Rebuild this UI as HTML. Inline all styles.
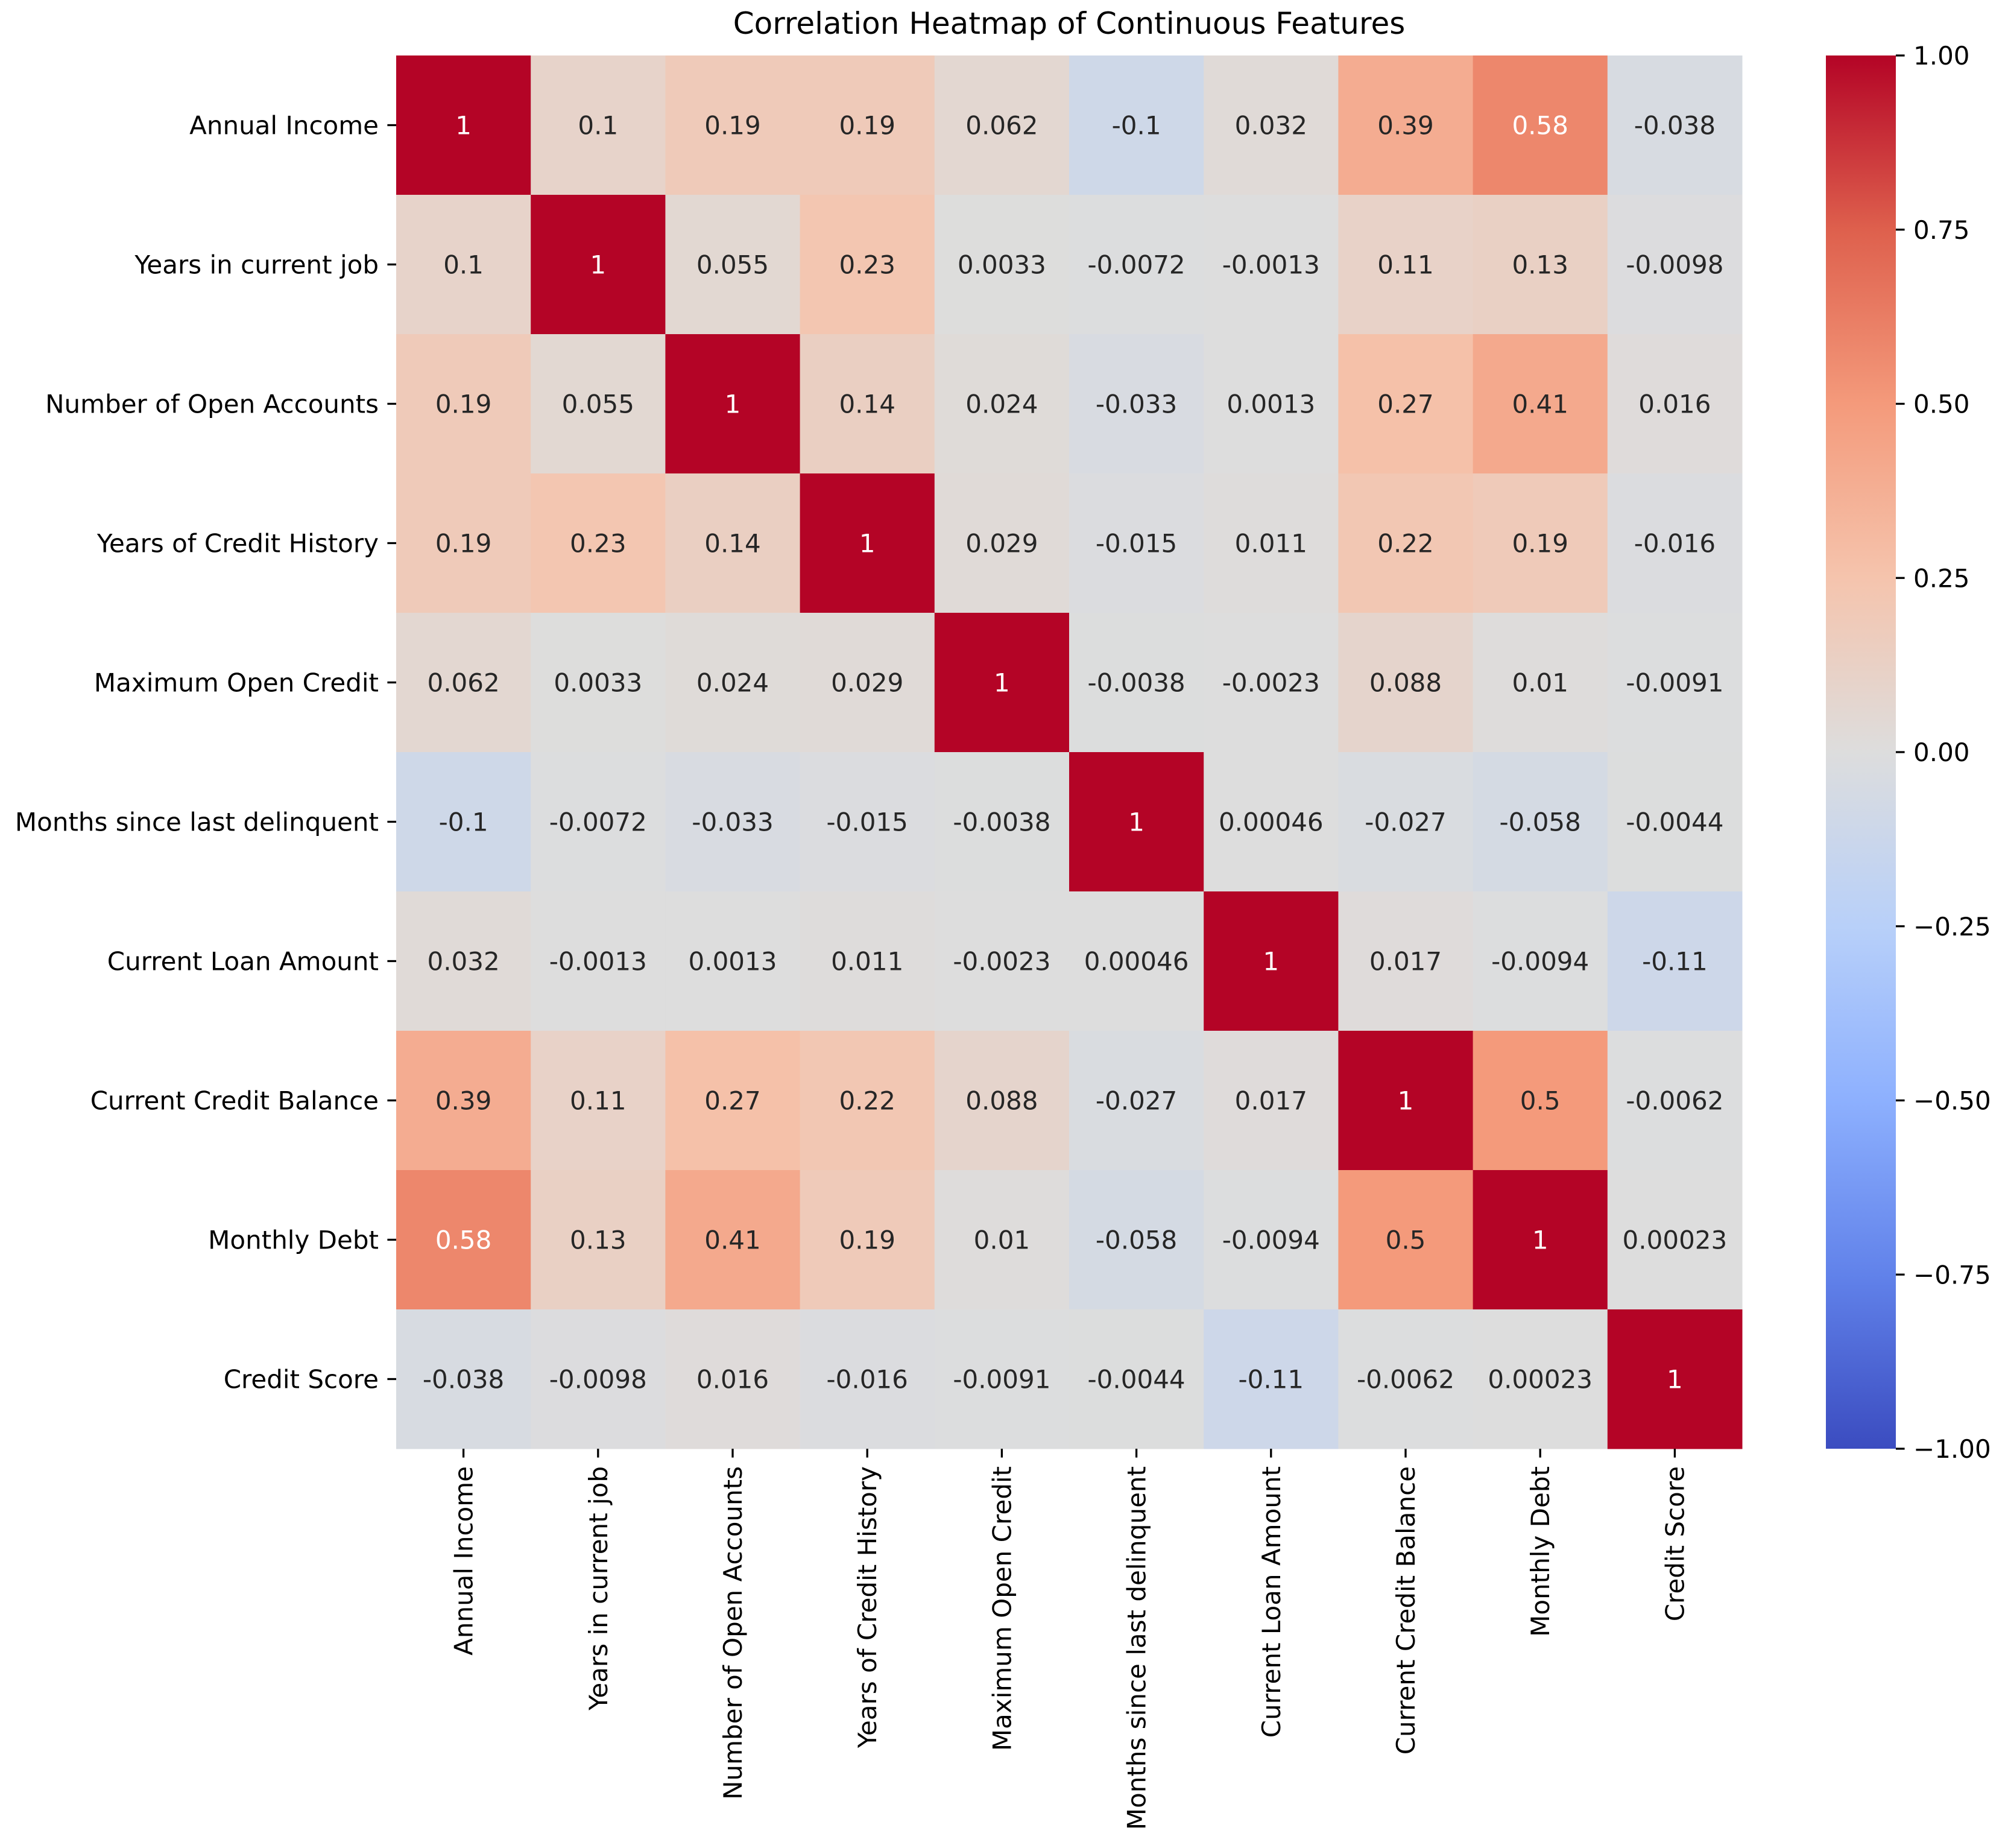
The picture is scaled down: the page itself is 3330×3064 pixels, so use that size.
<!DOCTYPE html>
<html><head><meta charset="utf-8"><style>
html,body{margin:0;padding:0;background:#fff;}
svg text{font-family:"DejaVu Sans","Liberation Sans",sans-serif;}
</style></head><body>
<svg id="chart" xmlns="http://www.w3.org/2000/svg" width="3330" height="3059" viewBox="0 0 3330 3059">
<defs><linearGradient id="cbgrad" x1="0" y1="1" x2="0" y2="0"></linearGradient></defs>
<text x="1773" y="56" font-size="50" text-anchor="middle" fill="#000">Correlation Heatmap of Continuous Features</text>
<g id="cells"></g>
<g id="ylabels"></g>
<g id="xlabels"></g>
<g id="cbar"></g>
</svg>
<script>
const labels = ["Annual Income","Years in current job","Number of Open Accounts","Years of Credit History","Maximum Open Credit","Months since last delinquent","Current Loan Amount","Current Credit Balance","Monthly Debt","Credit Score"];
const values = [
 [1,0.1,0.19,0.19,0.062,-0.1,0.032,0.39,0.58,-0.038],
 [0.1,1,0.055,0.23,0.0033,-0.0072,-0.0013,0.11,0.13,-0.0098],
 [0.19,0.055,1,0.14,0.024,-0.033,0.0013,0.27,0.41,0.016],
 [0.19,0.23,0.14,1,0.029,-0.015,0.011,0.22,0.19,-0.016],
 [0.062,0.0033,0.024,0.029,1,-0.0038,-0.0023,0.088,0.01,-0.0091],
 [-0.1,-0.0072,-0.033,-0.015,-0.0038,1,0.00046,-0.027,-0.058,-0.0044],
 [0.032,-0.0013,0.0013,0.011,-0.0023,0.00046,1,0.017,-0.0094,-0.11],
 [0.39,0.11,0.27,0.22,0.088,-0.027,0.017,1,0.5,-0.0062],
 [0.58,0.13,0.41,0.19,0.01,-0.058,-0.0094,0.5,1,0.00023],
 [-0.038,-0.0098,0.016,-0.016,-0.0091,-0.0044,-0.11,-0.0062,0.00023,1]
];
const cbarTicks = [1,0.75,0.5,0.25,0,-0.25,-0.5,-0.75,-1];
const cbarTickLabels = ["1.00","0.75","0.50","0.25","0.00","\u22120.25","\u22120.50","\u22120.75","\u22121.00"];

const NS="http://www.w3.org/2000/svg";
const X0=657,X1=2889,Y0=92,Y1=2402;
const n=labels.length, cw=(X1-X0)/n, ch=(Y1-Y0)/n;
const CB0=3028,CB1=3144;
const stops=[[59,76,192],[97,130,234],[141,176,254],[184,208,249],[221,221,221],[245,196,173],[244,154,123],[222,96,77],[180,4,38]];
function cmap(v){let t=(v+1)/2;t=Math.max(0,Math.min(1,t));const p=t*8,i=Math.min(7,Math.floor(p)),f=p-i;
 return stops[i].map((c,k)=>Math.round(c+(stops[i+1][k]-c)*f));}
function lum(c){const l=c.map(x=>{x/=255;return x<=0.03928?x/12.92:Math.pow((x+0.055)/1.055,2.4)});return 0.2126*l[0]+0.7152*l[1]+0.0722*l[2];}
function xs(j){return X0+j*cw;} function ys(i){return Y0+i*ch;}
function cy(v){return Y1-(v+1)/2*(Y1-Y0);}
function mk(tag,attrs,parent){const e=document.createElementNS(NS,tag);for(const k in attrs)e.setAttribute(k,attrs[k]);parent.appendChild(e);return e;}
const cells=document.getElementById('cells');
values.forEach((row,i)=>row.forEach((v,j)=>{
 const c=cmap(v);
 const r=mk('rect',{x:xs(j),y:ys(i),width:cw+0.5,height:ch+0.5,fill:`rgb(${c})`},cells);
 
 
 const t=mk('text',{x:xs(j)+cw/2,y:ys(i)+ch/2+15,'font-size':42,'text-anchor':'middle',fill:lum(c)>0.408?'#262626':'#ffffff'},cells);
 
 
 t.textContent=String(v);
}));
const yl=document.getElementById('ylabels'), xl=document.getElementById('xlabels');
labels.forEach((lab,i)=>{
 const y=ys(i)+ch/2;
 mk('line',{x1:X0-14.6,x2:X0,y1:y,y2:y,stroke:'#000','stroke-width':3.3},yl);
 const t=mk('text',{x:X0-29,y:y+15,'font-size':42,'text-anchor':'end',fill:'#000'},yl);
 
 
 t.textContent=lab;
 const x=xs(i)+cw/2;
 mk('line',{x1:x,x2:x,y1:Y1,y2:Y1+14.6,stroke:'#000','stroke-width':3.3},xl);
 const u=mk('text',{x:0,y:0,'font-size':42,'text-anchor':'end',fill:'#000',transform:`translate(${x+15},${Y1+29}) rotate(-90)`},xl);
 
 
 u.textContent=lab;
});
const grad=document.getElementById('cbgrad');
for(let k=0;k<=8;k++){mk('stop',{offset:k/8,'stop-color':`rgb(${stops[k]})`},grad);}
const cb=document.getElementById('cbar');
const bar=mk('rect',{x:CB0,y:Y0,width:CB1-CB0,height:Y1-Y0,fill:'url(#cbgrad)'},cb);


cbarTicks.forEach((v,k)=>{
 const y=cy(v);
 mk('line',{x1:CB1,x2:CB1+14.6,y1:y,y2:y,stroke:'#000','stroke-width':3.3},cb);
 const t=mk('text',{x:CB1+29,y:y+15,'font-size':42,fill:'#000'},cb);
 
 
 t.textContent=cbarTickLabels[k];
});
</script>
</body></html>
